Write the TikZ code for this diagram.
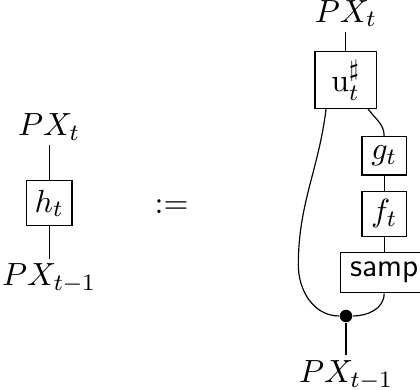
\documentclass[tikz,border=0pt]{standalone}
\usepackage{amsmath}
\usepackage{amssymb}
\usepackage{tikz}
\usetikzlibrary{positioning}

\begin{document}
\begin{tikzpicture}[
    font=\fontsize{11}{13}\selectfont,
    node distance=4mm,
    box/.style={draw, inner sep=2pt, minimum width=5.3mm, minimum height=5.3mm},
    lbl/.style={inner sep=1.5pt},
    dot/.style={circle, fill=black, inner sep=0pt, minimum size=1.5mm},
    wire/.style={line width=0.4pt}
]
\useasboundingbox (0,0) rectangle (5.04,4.68);
% left-hand side
\node[box, minimum width=5.5mm, minimum height=5.4mm] (h) at (0.59,2.24) {$h_t$};
\node[lbl, above=4.2mm of h] (htop) {$PX_t$};
\node[lbl, below=3.9mm of h] (hbot) {$PX_{t-1}$};
\draw[wire] (htop) -- (h);
\draw[wire] (h) -- (hbot);
\node (def) at (2.06,2.2) {$:=$};
% right-hand side
\node[box, minimum width=7.4mm, minimum height=6.8mm] (u) at (4.15,3.72) {$\mathrm{u}^{\sharp}_t$};
\node[lbl, above=2.3mm of u] (utop) {$PX_t$};
\node[box, minimum height=4.6mm] (g) at (4.61,2.81) {$g_t$};
\node[box, minimum height=5.4mm, below=1.8mm of g] (f) {$f_t$};
\node[draw, minimum height=4.7mm, below=1.8mm of f] (samp) {\textsf{samp}};
\node[dot] (merge) at (4.152,0.888) {};
\node[lbl, below=3.9mm of merge] (ubot) {$PX_{t-1}$};
\draw[wire] (utop) -- (u);
\draw[wire] ([xshift=1.4mm]u.south west) to[out=-97,in=90] (3.58,1.5) to[out=-90,in=180] (merge);
\draw[wire] ([xshift=-1.1mm]u.south east) to[out=-55,in=90] (g.north);
\draw[wire] (g) -- (f);
\draw[wire] (f) -- (samp);
\draw[wire] (samp.south) to[out=-90,in=0] (merge);
\draw[wire] (merge) -- (ubot);
\end{tikzpicture}
\end{document}
